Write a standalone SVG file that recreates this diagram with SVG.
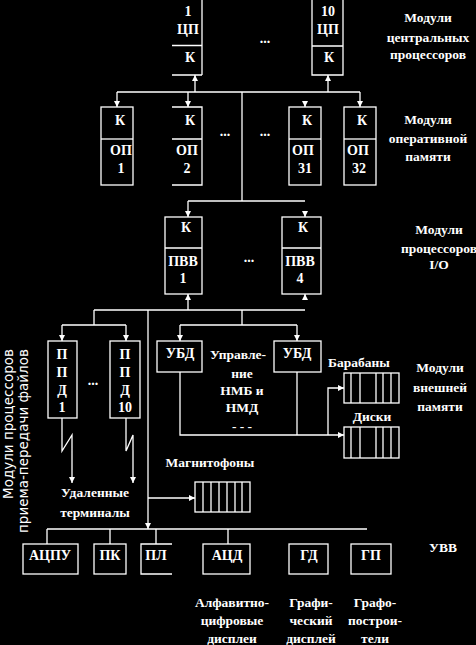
<svg xmlns="http://www.w3.org/2000/svg" width="476" height="645" viewBox="0 0 476 645">
<defs>
<style>
.ln{fill:none;stroke:#fff;stroke-width:1.3}
.t{font-family:"Liberation Serif","Times New Roman",serif;font-weight:bold;font-size:14px;fill:#fff;text-anchor:middle;dominant-baseline:central}
.s{font-family:"Liberation Serif","Times New Roman",serif;font-weight:bold;font-size:13.5px;fill:#fff;text-anchor:middle;dominant-baseline:central}
.v{font-family:"DejaVu Sans","Liberation Sans",sans-serif;font-size:13.5px;fill:#fff}
</style>
<marker id="ah" markerWidth="7" markerHeight="6" refX="6" refY="3" orient="auto" markerUnits="userSpaceOnUse">
<path d="M0,0 L6,3 L0,6 Z" fill="#fff"/>
</marker>
</defs>
<rect width="476" height="645" fill="#000"/>

<g id="cpu1">
<path class="ln" d="M202,0 V75 M172,45.5 H202 M172,75 H202"/>
<text class="t" x="188" y="11">1</text>
<text class="t" x="188" y="29">ЦП</text>
<text class="t" x="190" y="57">К</text>
</g>
<g id="cpu10">
<path class="ln" d="M312,0 V75 H343 V0 M312,46 H343"/>
<text class="t" x="328" y="11">10</text>
<text class="t" x="328" y="29">ЦП</text>
<text class="t" x="329" y="57">К</text>
</g>
<text class="t" x="265" y="38">...</text>
<g id="lbl-cpu">
<text class="s" x="428" y="17">Модули</text>
<text class="s" x="428" y="37">центральных</text>
<text class="s" x="428" y="54">процессоров</text>
</g>

<g id="op1">
<rect class="ln" x="101" y="107" width="32" height="78"/>
<path class="ln" d="M101,139 H133"/>
<text class="t" x="120" y="120">К</text>
<text class="t" x="121" y="150">ОП</text>
<text class="t" x="121" y="168">1</text>
</g>
<g id="op2">
<path class="ln" d="M172,107 H202 V185 H172 M172,139 H202"/>
<text class="t" x="190" y="120">К</text>
<text class="t" x="187" y="150">ОП</text>
<text class="t" x="187" y="168">2</text>
</g>
<g id="op31">
<rect class="ln" x="289" y="107" width="32" height="78"/>
<path class="ln" d="M289,139 H321"/>
<text class="t" x="307" y="120">К</text>
<text class="t" x="303" y="150">ОП</text>
<text class="t" x="305" y="168">31</text>
</g>
<g id="op32">
<rect class="ln" x="344" y="107" width="32" height="78"/>
<path class="ln" d="M344,139 H376"/>
<text class="t" x="362" y="120">К</text>
<text class="t" x="358" y="150">ОП</text>
<text class="t" x="359" y="168">32</text>
</g>
<text class="t" x="225" y="131">...</text>
<text class="t" x="265" y="131">...</text>
<g id="lbl-op">
<text class="s" x="428" y="119">Модули</text>
<text class="s" x="428" y="138">оперативной</text>
<text class="s" x="428" y="156">памяти</text>
</g>

<g id="pvv1">
<rect class="ln" x="165" y="217" width="37" height="77"/>
<path class="ln" d="M165,248 H202"/>
<text class="t" x="186" y="227">К</text>
<text class="t" x="183" y="261">ПВВ</text>
<text class="t" x="183" y="278">1</text>
</g>
<g id="pvv4">
<rect class="ln" x="282" y="217" width="39" height="77"/>
<path class="ln" d="M282,248 H321"/>
<text class="t" x="303" y="227">К</text>
<text class="t" x="300" y="261">ПВВ</text>
<text class="t" x="300" y="278">4</text>
</g>
<text class="t" x="249" y="257">...</text>
<g id="lbl-io">
<text class="s" x="439" y="229">Модули</text>
<text class="s" x="439" y="248">процессоров</text>
<text class="s" x="439" y="264">I/O</text>
</g>

<g id="ppd1">
<rect class="ln" x="48" y="341" width="29" height="77"/>
<text class="t" x="62" y="354">П</text>
<text class="t" x="62" y="372">П</text>
<text class="t" x="62" y="390">Д</text>
<text class="t" x="62" y="407">1</text>
</g>
<g id="ppd10">
<rect class="ln" x="110" y="341" width="30" height="77"/>
<text class="t" x="125" y="354">П</text>
<text class="t" x="125" y="372">П</text>
<text class="t" x="125" y="390">Д</text>
<text class="t" x="125" y="407">10</text>
</g>
<text class="t" x="93" y="380">...</text>
<g id="ubd1">
<rect class="ln" x="157" y="341" width="45" height="31"/>
<text class="t" x="180" y="353">УБД</text>
</g>
<g id="ubd2">
<rect class="ln" x="274" y="341" width="47" height="31"/>
<text class="t" x="297" y="353">УБД</text>
</g>
<g id="nmb-label">
<text class="s" x="238" y="354">Управле-</text>
<text class="s" x="242" y="373">ние</text>
<text class="s" x="242" y="390">НМБ и</text>
<text class="s" x="242" y="407">НМД</text>
<text class="s" x="242" y="426">- - -</text>
</g>
<g id="drums">
<rect class="ln" x="344" y="373" width="55" height="30"/>
<path class="ln" d="M351,373 V403 M360,373 V403 M376,373 V403 M383,373 V403 M391,373 V403"/>
<text class="s" x="359" y="362">Барабаны</text>
</g>
<g id="disks">
<rect class="ln" x="344" y="427" width="55" height="31"/>
<path class="ln" d="M351,427 V458 M360,427 V458 M376,427 V458 M383,427 V458 M391,427 V458"/>
<text class="s" x="372" y="416">Диски</text>
</g>
<g id="lbl-ext">
<text class="s" x="440" y="367">Модули</text>
<text class="s" x="440" y="387">внешней</text>
<text class="s" x="440" y="406">памяти</text>
</g>
<g id="tapes">
<rect class="ln" x="195" y="482" width="55" height="30"/>
<path class="ln" d="M203,482 V512 M211,482 V512 M219,482 V512 M227,482 V512 M235,482 V512 M242,482 V512"/>
<text class="s" x="210" y="462">Магнитофоны</text>
</g>
<g id="terminals">
<text class="s" x="95" y="492">Удаленные</text>
<text class="s" x="95" y="512">терминалы</text>
</g>
<g id="lbl-ppd">
<text class="v" transform="translate(13,499) rotate(-90)">Модули процессоров</text>
<text class="v" transform="translate(28,533) rotate(-90)">приема-передачи файлов</text>
</g>

<g id="acpu"><rect class="ln" x="23" y="544" width="55" height="30"/><text class="t" x="50" y="555">АЦПУ</text></g>
<g id="pk"><rect class="ln" x="94" y="544" width="32" height="30"/><text class="t" x="110" y="555">ПК</text></g>
<g id="pl"><path class="ln" d="M172,544 H141 V574 H172"/><text class="t" x="156" y="555">ПЛ</text></g>
<g id="acd"><rect class="ln" x="203" y="544" width="47" height="30"/><text class="t" x="227" y="555">АЦД</text></g>
<g id="gd"><rect class="ln" x="289" y="544" width="39" height="30"/><text class="t" x="309" y="555">ГД</text></g>
<g id="gp"><rect class="ln" x="351" y="544" width="40" height="30"/><text class="t" x="371" y="555">ГП</text></g>
<g id="lbl-uvv"><text class="s" x="443" y="547">УВВ</text></g>
<g id="lbl-bottom">
<text class="s" x="232" y="602">Алфавитно-</text>
<text class="s" x="232" y="620">цифровые</text>
<text class="s" x="232" y="638">дисплеи</text>
<text class="s" x="311" y="602">Графи-</text>
<text class="s" x="311" y="620">ческий</text>
<text class="s" x="311" y="638">дисплей</text>
<text class="s" x="375" y="602">Графо-</text>
<text class="s" x="375" y="620">построи-</text>
<text class="s" x="375" y="638">тели</text>
</g>

<g id="connectors">
<path class="ln" d="M117,92 H360 M242,92 V201"/>
<path class="ln" marker-end="url(#ah)" d="M195,92 V75"/>
<path class="ln" marker-end="url(#ah)" d="M328,92 V75"/>
<path class="ln" marker-end="url(#ah)" d="M117,92 V107"/>
<path class="ln" marker-end="url(#ah)" d="M188,92 V107"/>
<path class="ln" marker-end="url(#ah)" d="M305,102 V107"/>
<path class="ln" marker-end="url(#ah)" d="M360,92 V107"/>
<path class="ln" d="M188,201 H305"/>
<path class="ln" marker-end="url(#ah)" d="M188,201 V217"/>
<path class="ln" marker-end="url(#ah)" d="M305,212 V217"/>
<path class="ln" marker-end="url(#ah)" d="M188,310 V294"/>
<path class="ln" marker-end="url(#ah)" d="M305,299 V294"/>
<path class="ln" d="M94,310 H305 M94,310 V325 M62,325 H126 M242,310 V325 M180,325 H297"/>
<path class="ln" marker-end="url(#ah)" d="M62,325 V341"/>
<path class="ln" marker-end="url(#ah)" d="M126,325 V341"/>
<path class="ln" marker-end="url(#ah)" d="M180,325 V341"/>
<path class="ln" marker-end="url(#ah)" d="M297,325 V341"/>
<path class="ln" marker-end="url(#ah)" d="M148,310 V529"/>
<path class="ln" marker-end="url(#ah)" d="M148,498 H195"/>
<path class="ln" marker-end="url(#ah)" d="M180,372 V435 H344"/>
<path class="ln" d="M297,372 V435"/>
<path class="ln" marker-end="url(#ah)" d="M328,435 V388 H344"/>
<path class="ln" marker-end="url(#ah)" d="M62,418 V451 L72,435 V483"/>
<path class="ln" marker-end="url(#ah)" d="M126,418 V451 L133,435 V483"/>
<path class="ln" d="M47,529 H367 M47,529 V544 M110,529 V544 M156,529 V544 M228,529 V544"/>
</g>
</svg>
